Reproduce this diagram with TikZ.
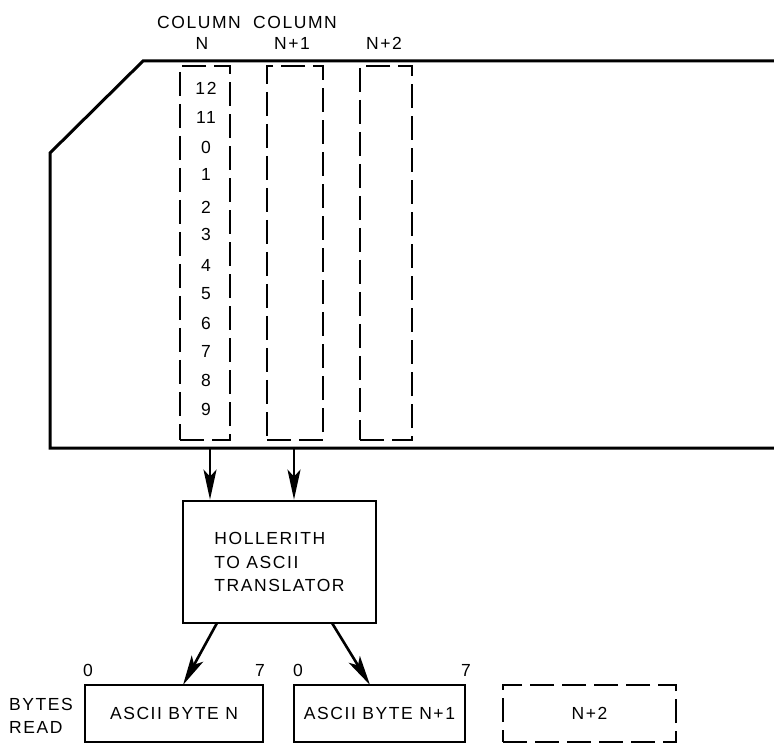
\documentclass[tikz,border=0pt]{standalone}
\usepackage{fontspec}
\setmainfont{Liberation Sans}[LetterSpace=9]
\usetikzlibrary{arrows.meta}
\tikzset{
  txt/.style={font=\fontsize{17.5}{23.5}\selectfont},
  lbl/.style={txt, inner sep=0pt},
  solidbox/.style={draw, line width=2.8pt, inner sep=0pt, txt},
  dashbox/.style={draw, line width=2.8pt, inner sep=0pt, dash pattern=on 24pt off 8pt, txt},
  arr/.style={line width=2.6pt, -{Stealth[length=30pt,width=13pt,inset=7pt]}},
  cardline/.style={line width=3pt, line join=miter}
}
\begin{document}
\begin{tikzpicture}[x=1pt,y=-1pt]
\useasboundingbox (0,0) rectangle (774,743);
% punched card outline
\draw[cardline] (776,61) -- (143,61) -- (50,153) -- (50,448) -- (776,448);
% column labels
\node[lbl] (colA) at (199,22) {COLUMN};
\node[lbl] (colB) at (295,22) {COLUMN};
\node[lbl] (nA) at (202,43) {N};
\node[lbl] (nB) at (292,43) {N+1};
\node[lbl] (nC) at (384,43) {N+2};
% dashed columns
\node[dashbox, minimum width=50pt, minimum height=374pt] (cN) at (205,253) {};
\node[dashbox, minimum width=56pt, minimum height=374pt] (cN1) at (295,253) {};
\node[dashbox, minimum width=52pt, minimum height=374pt] (cN2) at (386,253) {};
% row digits
\node[lbl] (r12) at (206,88) {12};
\node[lbl] (r11) at (206,117) {11};
\node[lbl] (r0) at (206,147) {0};
\node[lbl] (r1) at (206,174) {1};
\node[lbl] (r2) at (206,207) {2};
\node[lbl] (r3) at (206,234) {3};
\node[lbl] (r4) at (206,265) {4};
\node[lbl] (r5) at (206,294) {5};
\node[lbl] (r6) at (206,323) {6};
\node[lbl] (r7) at (206,351) {7};
\node[lbl] (r8) at (206,380) {8};
\node[lbl] (r9) at (206,409) {9};
% translator
\node[solidbox, minimum width=193pt, minimum height=122pt, align=left] (tr) at (279.5,562) {HOLLERITH\\TO ASCII\\TRANSLATOR};
% arrows from card
\coordinate (o1) at (210,448);
\coordinate (o2) at (294,448);
\draw[arr] (o1) -- (o1 |- tr.north);
\draw[arr] (o2) -- (o2 |- tr.north);
% byte boxes
\node[solidbox, minimum width=178pt, minimum height=57pt] (bN) at (174,713.5) {ASCII BYTE N};
\node[solidbox, minimum width=171pt, minimum height=57pt] (bN1) at (379.5,713.5) {ASCII BYTE N+1};
\node[dashbox, minimum width=173pt, minimum height=57pt] (bN2) at (589.5,713.5) {N+2};
% bit labels
\node[lbl] (z0) at (88,670) {0};
\node[lbl] (z7) at (260,670) {7};
\node[lbl] (y0) at (298,670) {0};
\node[lbl] (y7) at (466,670) {7};
\node[lbl, align=left, anchor=west] (br) at (9,716) {BYTES\\READ};
% arrows to bytes
\coordinate (t1) at (217,623);
\coordinate (t2) at (332,623);
\coordinate (h1) at (183,685);
\coordinate (h2) at (370,685);
\draw[arr] (t1) -- (h1);
\draw[arr] (t2) -- (h2);
\end{tikzpicture}
\end{document}
